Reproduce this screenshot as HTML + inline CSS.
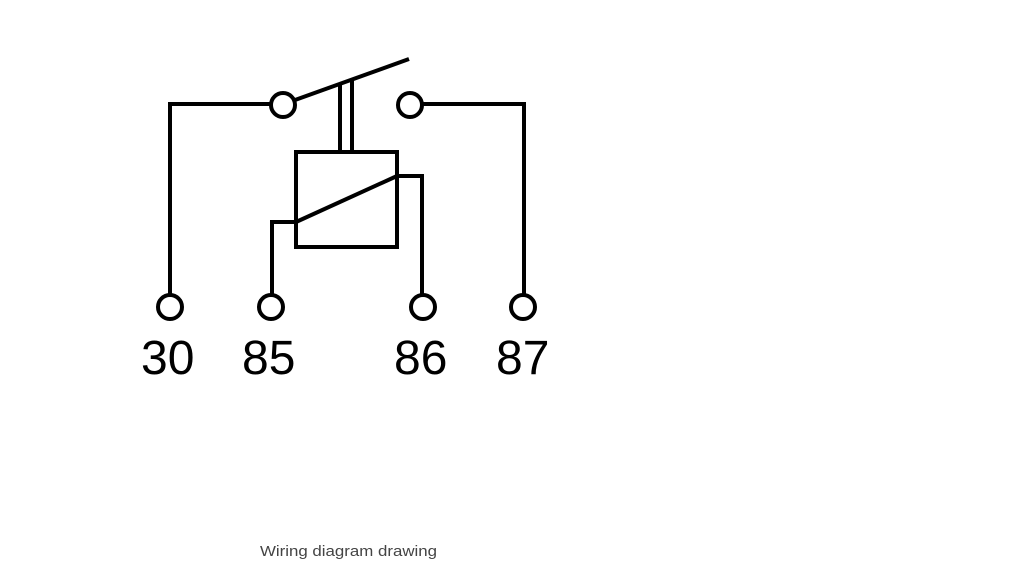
<!DOCTYPE html>
<html><head><meta charset="utf-8"><style>
html,body{margin:0;padding:0;background:#fff;}
svg{display:block;}
</style></head><body>
<svg width="1024" height="576" viewBox="0 0 1024 576" xmlns="http://www.w3.org/2000/svg">
<g fill="none" stroke="#000" stroke-width="4">
  <!-- left terminal 30 -->
  <polyline points="170,295 170,104 270,104"/>
  <circle cx="283" cy="105" r="12"/>
  <!-- switch arm -->
  <line x1="295" y1="100" x2="409" y2="59"/>
  <line x1="340" y1="84" x2="340" y2="152"/>
  <line x1="352" y1="80" x2="352" y2="152"/>
  <!-- right top contact 87 -->
  <circle cx="410" cy="105" r="12"/>
  <polyline points="422,104 524,104 524,295"/>
  <!-- coil box -->
  <rect x="296" y="152" width="101" height="95"/>
  <line x1="296" y1="222" x2="397" y2="176"/>
  <polyline points="296,222 272,222 272,295"/>
  <polyline points="397,176 422,176 422,295"/>
  <!-- bottom terminals -->
  <circle cx="170" cy="307" r="12"/>
  <circle cx="271" cy="307" r="12"/>
  <circle cx="423" cy="307" r="12"/>
  <circle cx="523" cy="307" r="12"/>
</g>
<g font-family="Liberation Sans, Arial, sans-serif" font-size="48" fill="#000">
  <text x="141" y="374">30</text>
  <text x="242" y="374">85</text>
  <text x="394" y="374">86</text>
  <text x="496" y="374">87</text>
</g>
<text x="260" y="556" font-family="Liberation Sans, Arial, sans-serif" font-size="15" fill="#444" textLength="177" lengthAdjust="spacingAndGlyphs">Wiring diagram drawing</text>
</svg>
</body></html>
